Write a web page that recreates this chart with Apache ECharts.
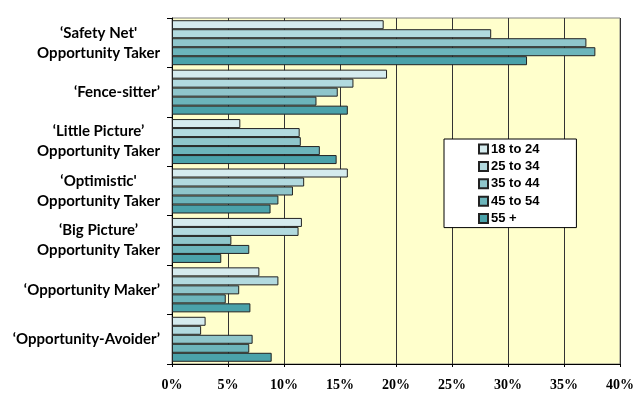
<!DOCTYPE html>
<html>
<head>
<meta charset="utf-8">
<script src="https://cdn.jsdelivr.net/npm/echarts@6/dist/echarts.min.js"></script>
<style>
  html, body { margin: 0; padding: 0; background: #ffffff; }
  #chart { width: 637px; height: 394px; }
</style>
</head>
<body>
<div id="chart"></div>
<script>
// Segment labels (top to bottom)
const categories = [
  "‘Safety Net'\nOpportunity Taker",
  "‘Fence-sitter’",
  "‘Little Picture’\nOpportunity Taker",
  "‘Optimistic'\nOpportunity Taker",
  "‘Big Picture’\nOpportunity Taker",
  "‘Opportunity Maker’",
  "‘Opportunity-Avoider’"
];

// Share of each age group in each segment (%)
const age18to24 = [18.9, 19.2, 6.1, 15.7, 11.6, 7.8, 3.0];
const age25to34 = [28.5, 16.2, 11.4, 11.8, 11.3, 9.5, 2.6];
const age35to44 = [37.0, 14.8, 11.5, 10.8, 5.3, 6.0, 7.2];
const age45to54 = [37.8, 12.9, 13.2, 9.5, 6.9, 4.8, 6.9];
const age55plus = [31.7, 15.7, 14.7, 8.8, 4.4, 7.0, 8.9];

const seriesNames = ["18 to 24", "25 to 34", "35 to 44", "45 to 54", "55 +"];
const seriesValues = [age18to24, age25to34, age35to44, age45to54, age55plus];
const seriesColors = ["#d5ebee", "#b2dadf", "#8fc6cb", "#6cb5bb", "#4aa2aa"];

const xTicks = [0, 5, 10, 15, 20, 25, 30, 35, 40];

const chart = echarts.init(document.getElementById("chart"), null, { renderer: "canvas" });

chart.setOption({
  animation: false,
  backgroundColor: "#ffffff",
  grid: {
    left: 172,
    right: 15,
    top: 18,
    bottom: 30,
    show: true,
    backgroundColor: "#ffffcc",
    borderColor: "#808080",
    borderWidth: 1
  },
  legend: {
    orient: "vertical",
    left: 444,
    top: 139,
    padding: [3, 37, 2, 34],
    itemWidth: 9,
    itemHeight: 9,
    itemGap: 3.4,
    icon: "rect",
    backgroundColor: "#ffffff",
    borderColor: "#000000",
    borderWidth: 1,
    borderRadius: 0,
    textStyle: {
      fontFamily: "Liberation Sans",
      fontWeight: "bold",
      fontSize: 13,
      color: "#000000",
      lineHeight: 14,
      padding: [0, 0, 0, -2]
    },
    data: seriesNames
  },
  xAxis: {
    type: "value",
    min: xTicks[0],
    max: xTicks[xTicks.length - 1],
    interval: 5,
    axisLine: { show: true, lineStyle: { color: "#000000" } },
    axisTick: { show: true, length: 3, lineStyle: { color: "#000000" } },
    splitLine: { show: true, lineStyle: { color: "#333333", width: 1 } },
    axisLabel: {
      formatter: "{value}%",
      margin: 14,
      fontFamily: "Liberation Serif",
      fontWeight: "bold",
      fontSize: 14,
      color: "#000000"
    }
  },
  yAxis: {
    type: "category",
    data: categories,
    inverse: true,
    axisLine: { show: true, lineStyle: { color: "#000000" } },
    axisTick: { show: true, length: 5, inside: false, lineStyle: { color: "#000000" } },
    axisLabel: {
      margin: 12,
      align: "right",
      formatter: function (v) {
        return v.split("\n").map(function (s) { return "{c|" + s + "}"; }).join("\n");
      },
      rich: {
        c: {
          align: "center",
          fontFamily: "Lato",
          fontWeight: "bold",
          fontSize: 15,
          lineHeight: 20,
          color: "#000000"
        }
      }
    }
  },
  series: seriesNames.map(function (name, i) {
    return {
      name: name,
      type: "bar",
      data: seriesValues[i],
      barWidth: 9,
      barGap: "0%",
      itemStyle: {
        color: seriesColors[i],
        borderColor: "#222222",
        borderWidth: 1
      }
    };
  })
});
</script>
</body>
</html>
